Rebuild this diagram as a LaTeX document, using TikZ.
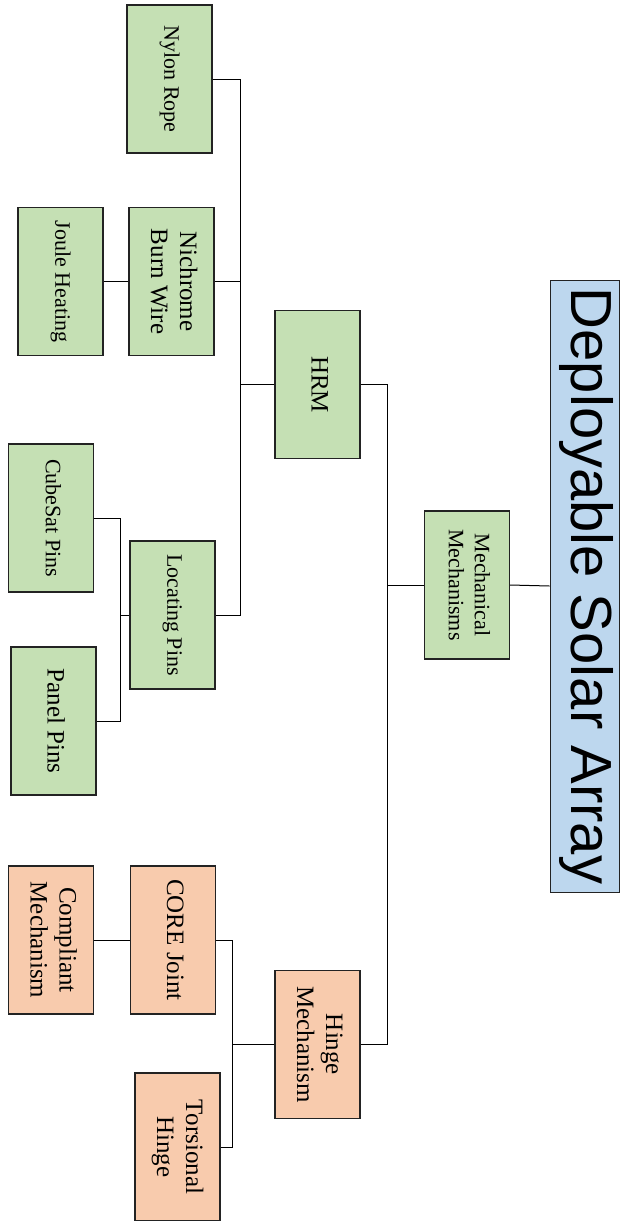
\documentclass[tikz,border=0pt]{standalone}
\usepackage{fontspec}
\setmainfont{Liberation Serif}
\newfontfamily\titlefont{Liberation Sans}
\usepackage{graphicx}
\definecolor{greenfill}{RGB}{197,224,180}
\definecolor{orangefill}{RGB}{248,203,173}
\definecolor{bluefill}{RGB}{189,215,238}
\definecolor{edgegray}{RGB}{35,35,35}
% text runs top to bottom in every box
\newcommand{\vtext}[1]{\rotatebox{-90}{\begin{tabular}{@{}c@{}}#1\end{tabular}}}
\tikzset{
  block/.style={
    rectangle, draw=edgegray, line width=1.2pt,
    minimum width=85pt, minimum height=148pt, inner sep=0pt,
    font=\fontsize{25}{29}\selectfont
  },
  grn/.style={block, fill=greenfill},
  org/.style={block, fill=orangefill},
  sml/.style={font=\fontsize{22}{26}\selectfont},
  ttl/.style={block, fill=bluefill, line width=1pt,
    minimum width=69pt, minimum height=612pt,
    font=\titlefont\fontsize{58}{64}\selectfont},
  link/.style={line width=1pt}
}

\begin{document}
\begin{tikzpicture}[x=1pt, y=-1pt]
  \useasboundingbox (0,0) rectangle (619,1221);

  \node[ttl] (dsa) at (584.5,586) {\vtext{Deployable Solar Array}};
  \node[grn, sml] (mech) at (467,585) {\vtext{Mechanical\\Mechanisms}};
  \node[grn] (hrm) at (317.5,384.5) {\vtext{HRM}};
  \node[org] (hinge) at (317.5,1044.5) {\vtext{Hinge\\Mechanism}};

  \node[grn, sml] (nylon) at (169.5,79) {\vtext{Nylon Rope}};
  \node[grn] (nichrome) at (171.5,281.5) {\vtext{Nichrome\\Burn Wire}};
  \node[grn, sml] (joule) at (60.5,281.5) {\vtext{Joule Heating}};
  \node[grn, sml] (locpins) at (172.5,615) {\vtext{Locating Pins}};
  \node[grn, sml] (cubesat) at (51,518) {\vtext{CubeSat Pins}};
  \node[grn] (panelpins) at (53.5,721) {\vtext{Panel Pins}};

  \node[org] (core) at (173,940) {\vtext{CORE Joint}};
  \node[org] (compliant) at (51,940) {\vtext{Compliant\\Mechanism}};
  \node[org] (torsional) at (177.5,1147) {\vtext{Torsional\\Hinge}};

  % bus lines
  \coordinate (busmech) at (387,0);
  \coordinate (bushrm) at (240,0);
  \coordinate (busloc) at (120,0);
  \coordinate (bushinge) at (232,0);

  \draw[link] (dsa.west) -- (mech.east);
  \draw[link] (mech.west) -- (mech.west -| busmech);
  \draw[link] (hrm.east) -- (hrm.east -| busmech) -- (hinge.east -| busmech) -- (hinge.east);

  \draw[link] (hrm.west) -- (hrm.west -| bushrm);
  \draw[link] (nylon.east) -- (nylon.east -| bushrm) -- (locpins.east -| bushrm) -- (locpins.east);
  \draw[link] (nichrome.east) -- (nichrome.east -| bushrm);
  \draw[link] (nichrome.west) -- (joule.east);

  \draw[link] (locpins.west) -- (locpins.west -| busloc);
  \draw[link] (cubesat.east) -- (cubesat.east -| busloc) -- (panelpins.east -| busloc) -- (panelpins.east);

  \draw[link] (hinge.west) -- (hinge.west -| bushinge);
  \draw[link] (core.east) -- (core.east -| bushinge) -- (torsional.east -| bushinge) -- (torsional.east);
  \draw[link] (core.west) -- (compliant.east);
\end{tikzpicture}
\end{document}
